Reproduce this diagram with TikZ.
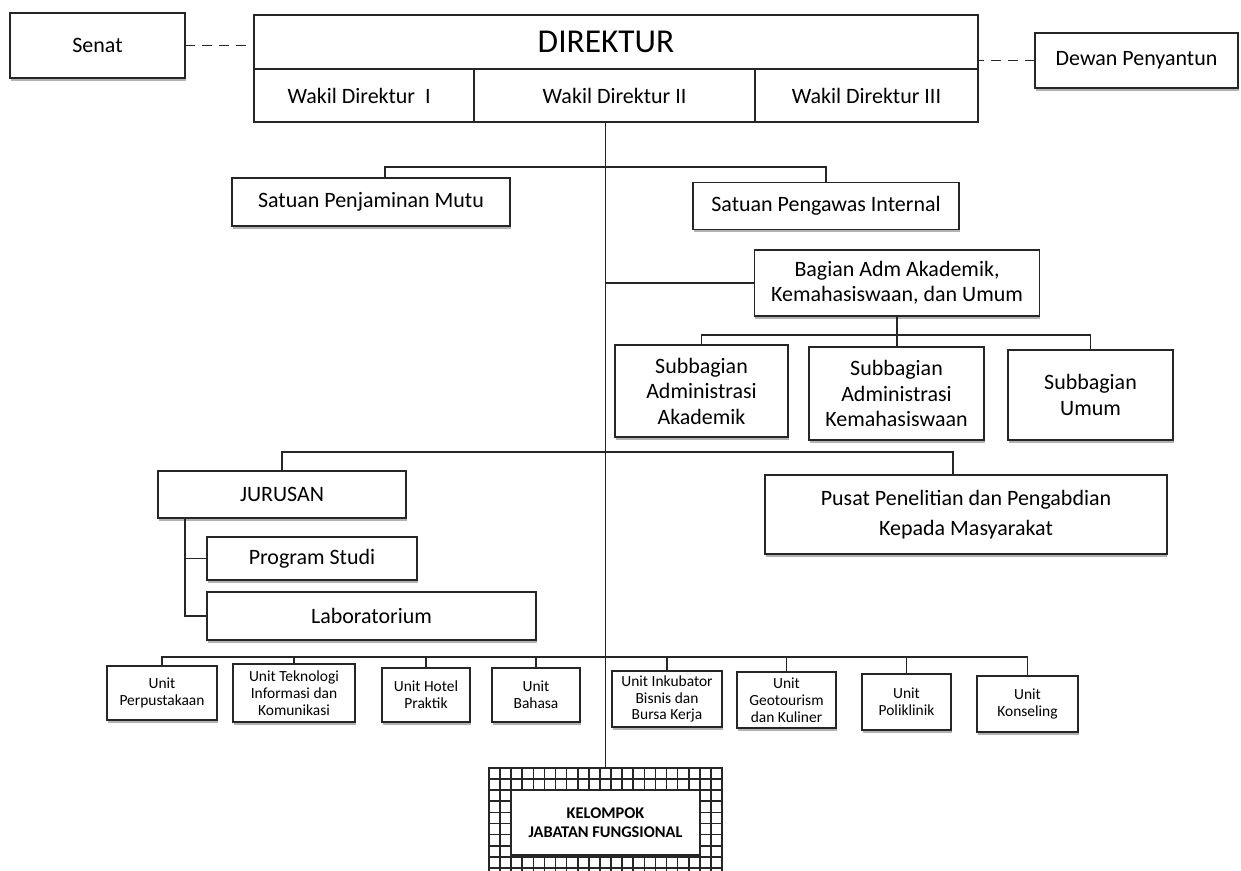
\documentclass[tikz,border=0pt]{standalone}
\usepackage{fontspec}
\setmainfont{Carlito}
\usepackage{tikz}
\usetikzlibrary{positioning,shadows}
\tikzset{
  box/.style      = {draw=black!85, line width=0.9pt, fill=white, align=center, inner sep=1pt, outer sep=0pt,
                     font=\fontsize{12.5}{14.5}\selectfont},
  shadowed/.style = {drop shadow={shadow xshift=0.3pt, shadow yshift=-1.6pt, fill=black, opacity=0.3}},
  unit/.style     = {box, shadowed, font=\fontsize{8.8}{9.6}\selectfont},
  line/.style     = {draw=black!85, line width=0.9pt},
  link/.style     = {line, dash pattern=on 0.2cm off 0.14cm},
}

\begin{document}
\begin{tikzpicture}[x=0.02cm, y=-0.02cm]
    \useasboundingbox (0,0) rectangle (1241,871);

    % Top row: director and his deputies
    \node[box, shadowed, minimum width=3.5cm, minimum height=1.3cm] (senat) at (97.5,45.5) {Senat};
    \node[box, minimum width=14.48cm, minimum height=1.08cm, font=\fontsize{19}{22}\selectfont] (direktur) at (616,42) {DIREKTUR\hspace*{0.4cm}};
    \node[box, minimum width=4.4cm, minimum height=1.06cm, anchor=north west] (wd1) at (direktur.south west) {Wakil Direktur~ I\hspace*{0.2cm}};
    \node[box, minimum width=5.62cm, minimum height=1.06cm, anchor=west] (wd2) at (wd1.east) {Wakil Direktur II};
    \node[box, minimum width=4.46cm, minimum height=1.06cm, anchor=west] (wd3) at (wd2.east) {Wakil Direktur III};
    \node[box, shadowed, minimum width=4.06cm, minimum height=1.1cm] (dewan) at (1136.5,60.5) {Dewan Penyantun};
    \draw[link] (senat.east) -- (senat.east -| direktur.west);
    \draw[link] (dewan.west) -- (dewan.west -| direktur.east);

    % Quality and internal control
    \node[box, shadowed, minimum width=5.56cm, minimum height=0.96cm] (spm) at (371,202) {Satuan Penjaminan Mutu};
    \node[box, shadowed, minimum width=5.32cm, minimum height=0.94cm] (spi) at (826,206) {Satuan Pengawas Internal};
    \draw[line] ([xshift=0.28cm]spm.north) -- ++(0,-11) -| (spi.north);

    % Administration and its subdivisions
    \node[box, shadowed, minimum width=5.7cm, minimum height=1.32cm] (bagian) at (897,283) {Bagian Adm Akademik,\\Kemahasiswaan, dan Umum};
    \node[box, shadowed, minimum width=3.46cm, minimum height=1.84cm] (sba) at (701.5,391) {Subbagian\\Administrasi\\Akademik};
    \node[box, shadowed, minimum width=3.5cm, minimum height=1.86cm] (sbk) at (896.5,393.5) {Subbagian\\Administrasi\\Kemahasiswaan};
    \node[box, shadowed, minimum width=3.3cm, minimum height=1.8cm] (sbu) at (1090.5,395) {Subbagian\\Umum};
    \draw[line] (sba.north) -- ++(0,-10) -| (sbu.north);
    \draw[line] (bagian.south) -- (bagian.south |- sbk.north);

    % Departments and research centre
    \node[box, shadowed, minimum width=4.96cm, minimum height=0.94cm] (jurusan) at (282,494.5) {JURUSAN};
    \node[box, shadowed, minimum width=8.04cm, minimum height=1.58cm, font=\fontsize{12.5}{17}\selectfont] (pppm) at (966,514.5) {Pusat Penelitian dan Pengabdian\\Kepada Masyarakat};
    \draw[line] (jurusan.north) -- ++(0,-19) -| ([xshift=-0.26cm]pppm.north);
    \node[box, shadowed, minimum width=4.2cm, minimum height=0.86cm] (prodi) at (312,558.5) {Program Studi};
    \node[box, shadowed, minimum width=6.58cm, minimum height=0.96cm] (lab) at (371.5,616) {Laboratorium};
    \coordinate (jbranch) at (185,518);
    \draw[line] (jbranch) |- (lab.west);
    \draw[line] (jbranch |- prodi.west) -- (prodi.west);

    % Support units
    \node[unit, minimum width=2.2cm, minimum height=1.08cm] (u1) at (162,693) {Unit\\Perpustakaan};
    \node[unit, minimum width=2.44cm, minimum height=1.16cm] (u2) at (294,693) {Unit Teknologi\\Informasi dan\\Komunikasi};
    \node[unit, minimum width=1.76cm, minimum height=1.08cm] (u3) at (426,695) {Unit Hotel\\Praktik};
    \node[unit, minimum width=1.76cm, minimum height=1.08cm] (u4) at (536,695) {Unit\\Bahasa};
    \node[unit, minimum width=2.2cm, minimum height=1.12cm] (u5) at (667,699) {Unit Inkubator\\Bisnis dan\\Bursa Kerja};
    \node[unit, minimum width=1.98cm, minimum height=1.12cm] (u6) at (786.5,700) {Unit\\Geotourism\\dan Kuliner};
    \node[unit, minimum width=1.78cm, minimum height=1.12cm] (u7) at (906.5,702) {Unit\\Poliklinik};
    \node[unit, minimum width=2.02cm, minimum height=1.12cm] (u8) at (1027.5,704) {Unit\\Konseling};
    \coordinate (ubar) at (162,657);
    \draw[line] (u1.north) -- (ubar) -| (u8.north);
    \foreach \n in {u2,u3,u4,u5,u6,u7}
        \draw[line] (\n.north) -- (\n.north |- ubar);

    % Functional positions (hatched frame)
    \begin{scope}
        \clip (0,0) rectangle (1241,871);
        \node[draw=black!85, line width=1pt, minimum width=4.662cm, minimum height=2.16cm, anchor=north, inner sep=0pt, outer sep=0pt] (kjf) at (605.5,768) {};
        \begin{scope}[shift={(kjf.north west)}]
            \draw[black!85, line width=0.95pt, step=0.222cm] (0,0) grid (4.662cm,-2.16cm);
        \end{scope}
    \end{scope}
    \node[box, minimum width=3.774cm, minimum height=1.296cm, font=\fontsize{9.3}{10.8}\selectfont\bfseries] (kjfin) at (605.5,822.6) {KELOMPOK\\JABATAN FUNGSIONAL};

    % Main trunk
    \draw[line] (wd2.south -| kjf.north) -- (kjf.north);
    \draw[line] (bagian.west -| kjf.north) -- (bagian.west);
\end{tikzpicture}
\end{document}
